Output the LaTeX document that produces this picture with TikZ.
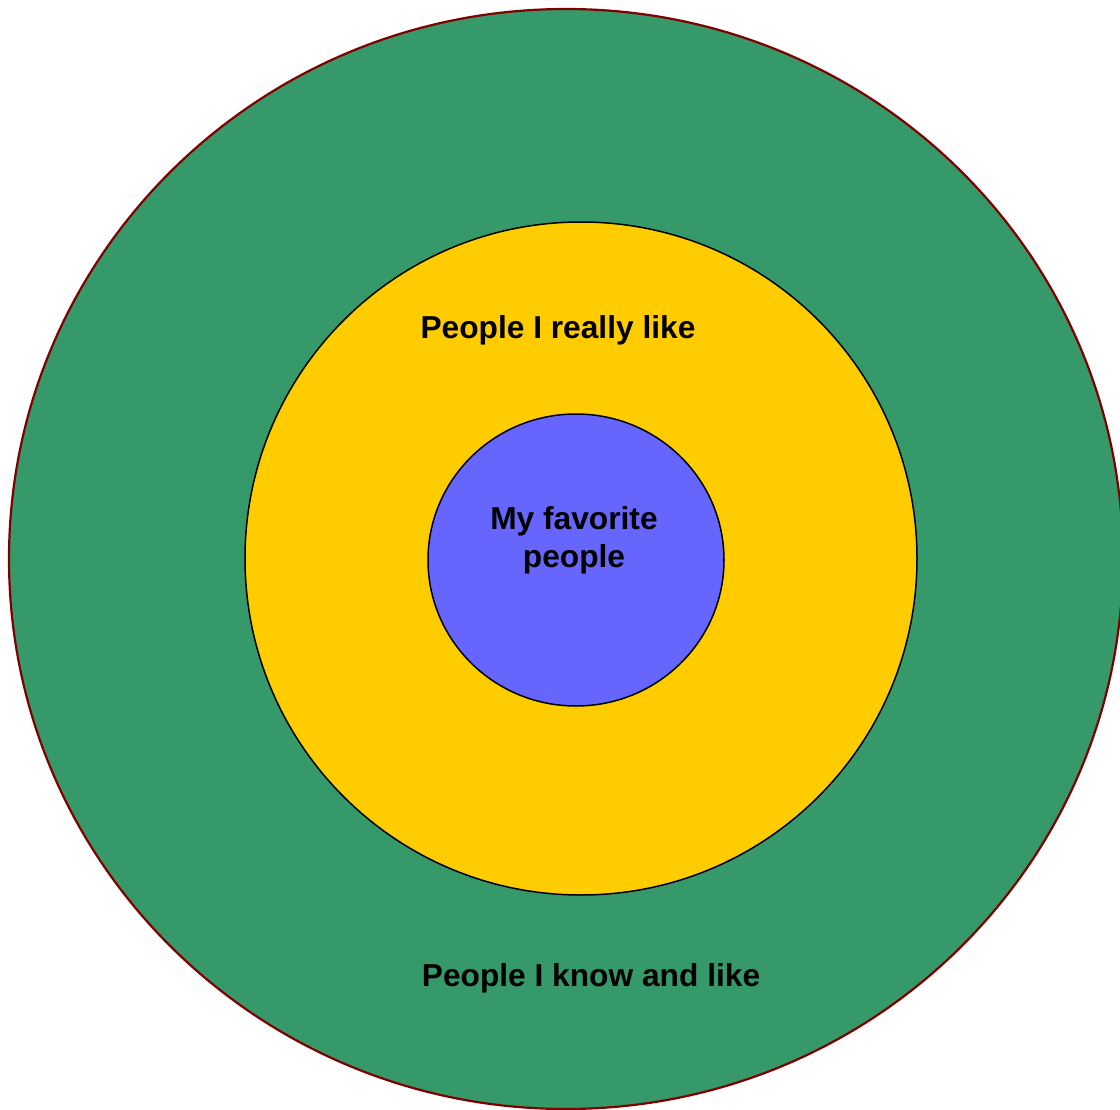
\documentclass[tikz,border=0pt]{standalone}
\usepackage{fontspec}
\setmainfont{Liberation Sans}
\definecolor{ringgreen}{RGB}{53,153,106}
\definecolor{ringyellow}{RGB}{255,204,0}
\definecolor{ringblue}{RGB}{102,102,255}
\definecolor{ringborder}{RGB}{128,0,0}
\begin{document}
\begin{tikzpicture}[x=1pt,y=-1pt,
  lbl/.style={font=\fontsize{31.7}{38}\selectfont\bfseries, inner sep=0pt, text=black, align=center}]
\useasboundingbox (0,0) rectangle (1120,1110);
\begin{scope}
\clip (0,0) rectangle (1120,1110);
\draw[fill=ringgreen, draw=ringborder, line width=2.2pt] (566,559) ellipse [x radius=557, y radius=550];
\draw[fill=ringyellow, draw=black, line width=1.5pt] (581,558.5) ellipse [x radius=336, y radius=336.5];
\draw[fill=ringblue, draw=black, line width=1.5pt] (576,560) ellipse [x radius=148, y radius=146];
\end{scope}
\node[lbl, anchor=base] (outer) at (591,986) {People I know and like};
\node[lbl, anchor=base] (middle) at (558,338) {People I really like};
\node[lbl, anchor=center] (inner) at (574,540) {My favorite\\people};
\end{tikzpicture}
\end{document}
